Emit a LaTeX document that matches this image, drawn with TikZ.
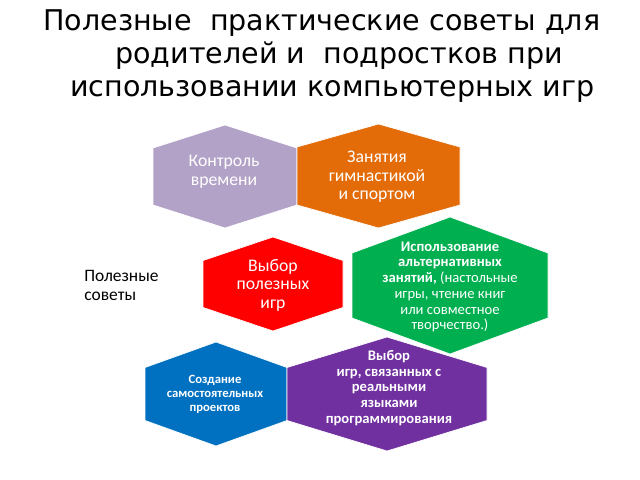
\documentclass[tikz,border=0pt]{standalone}
\usepackage{fontspec}
\setmainfont{Carlito}
\newfontfamily\titlefont{DejaVu Sans}
\usetikzlibrary{positioning}

\definecolor{lilac}{HTML}{B3A2C7}
\definecolor{sportorange}{HTML}{E36C09}
\definecolor{gamered}{HTML}{FF0000}
\definecolor{altgreen}{HTML}{00B050}
\definecolor{projblue}{HTML}{0070C0}
\definecolor{codepurple}{HTML}{7030A0}

% hexagon: centre x, centre y, half width, half height, half side, colour
\newcommand{\hexcell}[6]{%
  \fill[#6, draw=white, line width=0.5pt]
    (#1-#3,#2-#5) -- (#1,#2-#4) -- (#1+#3,#2-#5) --
    (#1+#3,#2+#5) -- (#1,#2+#4) -- (#1-#3,#2+#5) -- cycle;}

\begin{document}
\begin{tikzpicture}[
    x=0.025cm, y=-0.025cm,
    % Styles
    title/.style={
        font=\titlefont\fontsize{20.3}{24}\selectfont,
        anchor=base west,
        inner sep=0pt
    },
    hexlabel/.style={
        text=white,
        align=center,
        font=\fontsize{12.6}{13.2}\selectfont
    },
    hexbold/.style={
        text=white,
        align=center,
        font=\bfseries\fontsize{10.4}{11.2}\selectfont
    },
    side/.style={
        anchor=base west,
        align=left,
        inner sep=0pt,
        font=\fontsize{12.4}{13}\selectfont
    }
]
    \useasboundingbox (0,0) rectangle (640,480);

    % --- TITLE ---
    \node[title] (t1) at (43,30) {Полезные\ \ практические советы для};
    \node[title] (t2) at (115,63) {родителей и\ \ подростков при};
    \node[title] (t3) at (70,96) {использовании компьютерных игр};

    % --- HEXAGONS ---
    \hexcell{225}{176.5}{72}{51.5}{28.5}{lilac}
    \hexcell{378.5}{176}{81.5}{52}{29}{sportorange}
    \hexcell{273}{284}{70}{47}{23.5}{gamered}
    \hexcell{450}{285.5}{98}{68.5}{32.5}{altgreen}
    \hexcell{216}{394}{71}{52}{26.5}{projblue}
    \hexcell{387}{394}{100}{57}{26.5}{codepurple}

    % --- LABELS ---
    \node[hexlabel] (time) at (224,172) {Контроль\\времени};
    \node[hexlabel] (sport) at (377,177) {Занятия\\гимнастикой\\и спортом};
    \node[hexlabel] (useful) at (273,285) {Выбор\\полезных\\игр};
    \node[hexbold] (alt) at (450,287) {Использование\\альтернативных\\
        занятий, \mdseries(настольные\\\mdseries игры, чтение книг\\
        \mdseries или совместное\\\mdseries творчество.)};
    \node[hexbold, font=\bfseries\fontsize{9}{10}\selectfont] (own) at (215,394)
        {Создание\\самостоятельных\\проектов};
    \node[hexbold] (code) at (389,388) {Выбор\\игр, связанных с\\реальными\\языками\\программирования};

    % Annotation
    \node[side] (tips) at (84,300) {Полезные\\советы};

\end{tikzpicture}
\end{document}
